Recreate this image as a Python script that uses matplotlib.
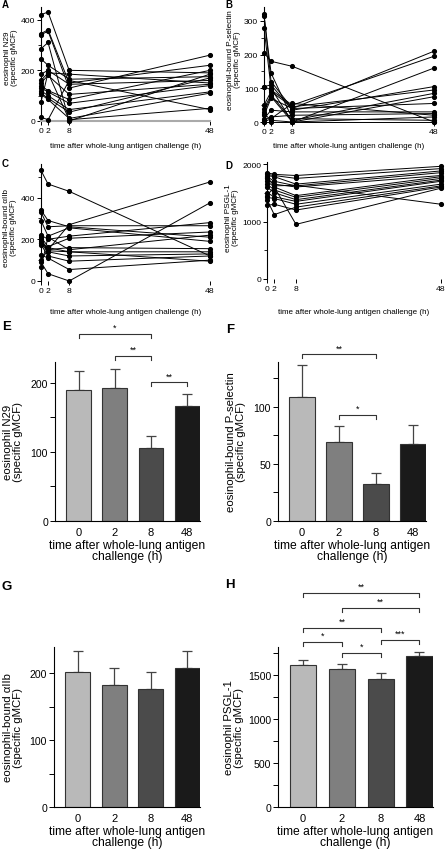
import matplotlib
matplotlib.use("Agg")
import matplotlib.pyplot as plt
from matplotlib.ticker import MultipleLocator

plt.rcParams['font.family'] = ['Liberation Sans', 'DejaVu Sans']

W, H = 446, 853

times = [0, 2, 8, 48]
time_labels = ['0', '2', '8', '48']

# individual subjects: values at 0, 2, 8, 48 h
n29_individual = [
    [420, 430, 200, 190], [345, 360, 150, 220], [340, 355, 130, 260],
    [285, 310, 0, 185], [245, 220, 165, 175], [185, 200, 145, 160],
    [160, 190, 185, 150], [150, 180, 105, 145], [140, 120, 85, 200],
    [130, 115, 70, 140], [120, 100, 45, 115], [110, 90, 35, 170],
    [105, 85, 10, 110], [75, 190, 5, 50], [15, 5, 160, 45],
]
psel_individual = [
    [320, 120, 40, 210], [315, 145, 10, 5], [280, 100, 0, 160],
    [205, 180, 165, 0], [105, 95, 50, 195], [105, 110, 35, 105],
    [50, 90, 45, 95], [40, 80, 5, 85], [30, 75, 0, 75],
    [20, 70, 40, 55], [10, 35, 30, 30], [5, 15, 20, 25],
    [0, 10, 55, 20], [25, 5, 0, 15], [0, 0, 0, 0],
]
aiib_individual = [
    [530, 465, 430, 120], [340, 290, 260, 210], [330, 260, 265, 265],
    [290, 215, 255, 190], [220, 200, 215, 280], [210, 165, 205, 235],
    [200, 150, 160, 155], [190, 145, 140, 140], [180, 140, 120, 130],
    [175, 120, 95, 120], [125, 110, 55, 100], [100, 150, 270, 475],
    [90, 35, 0, 375], [65, 210, 150, 220], [180, 160, 140, 95],
]
psgl_individual = [
    [1850, 1820, 1800, 1960], [1820, 1800, 1750, 1920], [1800, 1780, 1650, 1880],
    [1780, 1700, 1620, 1850], [1750, 1650, 1600, 1800], [1700, 1600, 1450, 1780],
    [1650, 1550, 1420, 1750], [1600, 1500, 1380, 1720], [1500, 1430, 1350, 1700],
    [1420, 1400, 1300, 1650], [1380, 1120, 1250, 1620], [1280, 1300, 1200, 1600],
    [1450, 1600, 950, 1580], [1760, 1620, 1630, 1300],
]

# group means and SEM
n29_mean = [190, 193, 106, 167]
n29_sem = [27, 27, 17, 17]
psel_mean = [108, 69.5, 32.5, 67]
psel_sem = [28, 13.5, 9.5, 17]
aiib_mean = [202, 182, 176, 207]
aiib_sem = [31, 25, 25, 26]
psgl_mean = [1608, 1565, 1460, 1720]
psgl_sem = [57, 55, 60, 45]

# significance brackets (group i, group j, height, label)
n29_sig = [(0, 2, 271, '*'), (1, 2, 239, '**'), (2, 3, 201, '**')]
psel_sig = [(0, 2, 146, '**'), (1, 2, 93, '*')]
psgl_sig = [(0, 3, 2435, '**'), (1, 3, 2265, '**'), (0, 2, 2038, '**'),
            (2, 3, 1903, '***'), (0, 1, 1880, '*'), (1, 2, 1755, '*')]

bar_colors = ['#b9b9b9', '#7f7f7f', '#4b4b4b', '#1a1a1a']

fig = plt.figure(figsize=(W / 100, H / 100), dpi=100)


def add_ax(left, right, top, bottom):
    return fig.add_axes([left / W, 1 - bottom / H, (right - left) / W, (bottom - top) / H])


def line_panel(box, data, ymax, major, minor, ylabel, letter, letter_xy, ylab_xy, xlab_y, bottom_color=None):
    ax = add_ax(*box)
    for subj in data:
        ax.plot(times, subj, color='black', lw=0.7, marker='o', ms=2.7, clip_on=False, zorder=3)
    ax.set_xlim(0, 48)
    ax.set_ylim(0, ymax)
    ax.set_xticks(times)
    ax.set_xticklabels(time_labels)
    ax.yaxis.set_major_locator(MultipleLocator(major))
    ax.yaxis.set_minor_locator(MultipleLocator(minor))
    for s in ['top', 'right']:
        ax.spines[s].set_visible(False)
    if bottom_color:
        ax.spines['bottom'].set_color(bottom_color)
        ax.spines['bottom'].set_linewidth(1.5)
    else:
        ax.spines['bottom'].set_visible(False)
    ax.spines['left'].set_linewidth(0.8)
    ax.tick_params(axis='both', which='major', labelsize=6.1, length=3, width=0.7, pad=1.2)
    ax.tick_params(axis='y', which='minor', length=2, width=0.6)
    ax.patch.set_alpha(0)
    bb = box
    fig.text(ylab_xy[0] / W, 1 - ylab_xy[1] / H, ylabel, rotation=90, ha='center', va='center',
             fontsize=5.9, multialignment='center', linespacing=1.1)
    fig.text(((bb[0] + bb[1]) / 2) / W, 1 - xlab_y / H,
             'time after whole-lung antigen challenge (h)', ha='center', va='center', fontsize=5.8)
    fig.text(letter_xy[0] / W, 1 - letter_xy[1] / H, letter, fontsize=7, fontweight='bold',
             ha='left', va='center')
    return ax


def bar_panel(box, means, sems, ymax, major, minor, ylabel, letter, letter_xy, ylab_x, sigs):
    ax = add_ax(*box)
    x = list(range(4))
    ax.bar(x, means, width=0.68, color=bar_colors, edgecolor='#333333', linewidth=0.8, zorder=2)
    ax.errorbar(x, means, yerr=[[0] * 4, sems], fmt='none', ecolor='#444444', elinewidth=0.9,
                capsize=3.5, capthick=0.9, zorder=1)
    ax.set_xlim(-0.65, 3.35)
    ax.set_ylim(0, ymax)
    ax.set_xticks(x)
    ax.set_xticklabels(time_labels)
    ax.yaxis.set_major_locator(MultipleLocator(major))
    ax.yaxis.set_minor_locator(MultipleLocator(minor))
    for s in ['top', 'right']:
        ax.spines[s].set_visible(False)
    ax.spines['left'].set_linewidth(0.8)
    ax.spines['bottom'].set_linewidth(0.8)
    ax.tick_params(axis='y', which='major', labelsize=7.6, length=3.5, width=0.7, pad=1.5)
    ax.tick_params(axis='y', which='minor', length=3.5, width=0.7)
    ax.tick_params(axis='x', which='major', labelsize=8, length=0, pad=4)
    ax.set_xlabel('time after whole-lung antigen\nchallenge (h)', fontsize=8.7, labelpad=1.5,
                  linespacing=0.98)
    ax.patch.set_alpha(0)
    drop = 0.025 * ymax
    for i, j, yv, lab in sigs:
        ax.plot([i, i, j, j], [yv - drop, yv, yv, yv - drop], color='#333333', lw=0.8, clip_on=False)
        ax.text((i + j) / 2, yv + 0.01 * ymax, lab, ha='center', va='bottom', fontsize=6.5, clip_on=False)
    ymid = (box[2] + box[3]) / 2
    fig.text(ylab_x / W, 1 - ymid / H, ylabel, rotation=90, ha='center', va='center',
             fontsize=8.2, multialignment='center', linespacing=1.05)
    fig.text(letter_xy[0] / W, 1 - letter_xy[1] / H, letter, fontsize=9.5, fontweight='bold',
             ha='left', va='center')
    return ax


line_panel((41, 210, 8, 122), n29_individual, 450, 200, 100,
           'eosinophil N29\n(specific gMCF)', 'A', (2, 5), (11, 58), 146, bottom_color='#aaaaaa')
line_panel((264, 434, 8, 123), psel_individual, 341, 100, 50,
           'eosinophil-bound P-selectin\n(specific gMCF)', 'B', (225, 5), (234, 60), 146)
line_panel((41, 210, 165, 282), aiib_individual, 561, 200, 100,
           'eosinophil-bound \u03b1IIb\n(specific gMCF)', 'C', (2, 164), (10, 228), 313)
line_panel((267, 441, 163, 280), psgl_individual, 2035, 1000, 500,
           'eosinophil PSGL-1\n(specific gMCF)', 'D', (225, 166), (232, 218), 313)

bar_panel((55, 200, 363, 522), n29_mean, n29_sem, 230, 100, 50,
          'eosinophil N29\n(specific gMCF)', 'E', (2, 327), 13, n29_sig)
bar_panel((278, 426, 363, 522), psel_mean, psel_sem, 139, 50, 25,
          'eosinophil-bound P-selectin\n(specific gMCF)', 'F', (226, 330), 236, psel_sig)
bar_panel((54, 200, 648, 808), aiib_mean, aiib_sem, 239, 100, 50,
          'eosinophil-bound \u03b1IIb\n(specific gMCF)', 'G', (2, 587), 13, [])
bar_panel((278, 433, 648, 808), psgl_mean, psgl_sem, 1818, 500, 250,
          'eosinophil PSGL-1\n(specific gMCF)', 'H', (225, 585), 234, psgl_sig)

fig.savefig('out.png', dpi=100)
